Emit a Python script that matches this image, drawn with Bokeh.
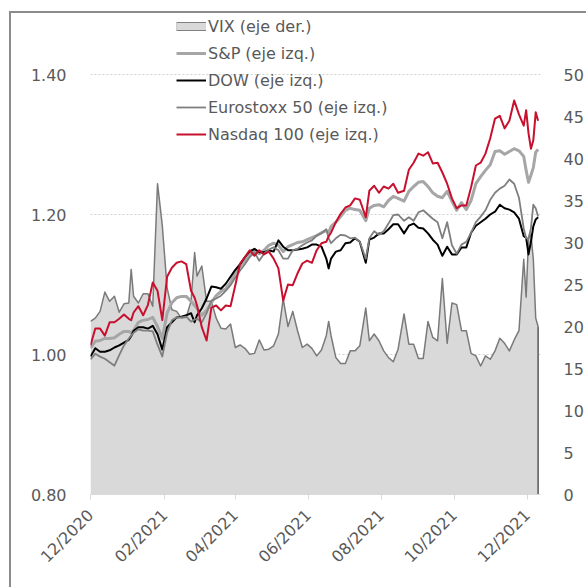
import math
import pandas as pd
from bokeh.plotting import figure
from bokeh.models import (Range1d, LinearAxis, FixedTicker, PrintfTickFormatter,
                          DatetimeTickFormatter, Legend, LegendItem, InlineStyleSheet,
                          ColumnDataSource)
from bokeh.embed import file_html
from bokeh.resources import INLINE

# ---------------- data ----------------
dates = [
    "2020-12-01", "2020-12-05", "2020-12-09", "2020-12-13", "2020-12-17", "2020-12-21",
    "2020-12-25", "2020-12-29", "2021-01-02", "2021-01-04", "2021-01-06", "2021-01-10",
    "2021-01-14", "2021-01-18", "2021-01-22", "2021-01-26", "2021-01-30", "2021-02-03",
    "2021-02-07", "2021-02-11", "2021-02-15", "2021-02-19", "2021-02-23", "2021-02-26",
    "2021-02-28", "2021-03-04", "2021-03-08", "2021-03-12", "2021-03-16", "2021-03-20",
    "2021-03-24", "2021-03-28", "2021-04-01", "2021-04-05", "2021-04-09", "2021-04-13",
    "2021-04-17", "2021-04-21", "2021-04-25", "2021-04-29", "2021-05-03", "2021-05-07",
    "2021-05-11", "2021-05-15", "2021-05-19", "2021-05-23", "2021-05-27", "2021-05-31",
    "2021-06-04", "2021-06-08", "2021-06-12", "2021-06-16", "2021-06-18", "2021-06-20",
    "2021-06-24", "2021-06-28", "2021-07-02", "2021-07-06", "2021-07-10", "2021-07-14",
    "2021-07-19", "2021-07-22", "2021-07-26", "2021-07-30", "2021-08-03", "2021-08-07",
    "2021-08-11", "2021-08-15", "2021-08-20", "2021-08-24", "2021-08-28", "2021-09-01",
    "2021-09-05", "2021-09-09", "2021-09-13", "2021-09-17", "2021-09-21", "2021-09-25",
    "2021-09-29", "2021-10-03", "2021-10-07", "2021-10-11", "2021-10-15", "2021-10-19",
    "2021-10-23", "2021-10-27", "2021-10-31", "2021-11-04", "2021-11-08", "2021-11-12",
    "2021-11-16", "2021-11-20", "2021-11-24", "2021-11-28", "2021-11-30", "2021-12-02",
    "2021-12-04", "2021-12-06", "2021-12-08", "2021-12-10",
]

vix = [
    20.6, 21.0, 21.8, 24.1, 23.0, 23.6, 21.7, 22.7, 22.8, 26.8,
    23.6, 22.8, 23.9, 23.9, 22.4, 37.0, 32.0, 24.6, 22.0, 21.8,
    21.0, 21.1, 23.0, 28.8, 26.0, 27.2, 23.0, 23.0, 21.0, 19.8,
    19.7, 20.3, 17.5, 17.8, 17.4, 16.7, 16.8, 18.4, 17.2, 17.3,
    17.7, 19.1, 23.3, 20.0, 21.8, 19.5, 17.5, 17.9, 17.4, 16.5,
    17.2, 18.9, 20.6, 18.9, 16.3, 15.6, 15.6, 17.1, 17.1, 17.7,
    22.2, 18.3, 19.1, 18.3, 17.1, 16.3, 15.8, 17.3, 21.5, 17.9,
    17.9, 16.2, 16.2, 20.6, 18.7, 18.3, 25.7, 18.0, 22.8, 22.6,
    19.5, 19.5, 16.8, 16.5, 15.3, 16.5, 16.1, 17.1, 18.6, 18.0,
    17.1, 18.4, 19.5, 28.0, 23.5, 30.5, 31.0, 28.0, 21.0, 20.0,
]

sp = [
    1.009, 1.019, 1.020, 1.023, 1.023, 1.024, 1.029, 1.033, 1.033, 1.031,
    1.034, 1.046, 1.049, 1.050, 1.053, 1.040, 1.023, 1.059, 1.074, 1.081,
    1.083, 1.083, 1.076, 1.070, 1.066, 1.056, 1.063, 1.074, 1.084, 1.090,
    1.094, 1.103, 1.117, 1.126, 1.134, 1.141, 1.149, 1.144, 1.149, 1.156,
    1.159, 1.156, 1.147, 1.154, 1.157, 1.160, 1.161, 1.164, 1.167, 1.170,
    1.174, 1.177, 1.174, 1.183, 1.189, 1.197, 1.206, 1.209, 1.207, 1.206,
    1.191, 1.209, 1.213, 1.214, 1.211, 1.220, 1.226, 1.223, 1.219, 1.233,
    1.240, 1.246, 1.247, 1.240, 1.231, 1.226, 1.224, 1.233, 1.219, 1.206,
    1.217, 1.207, 1.220, 1.244, 1.254, 1.263, 1.271, 1.290, 1.291, 1.286,
    1.290, 1.294, 1.291, 1.283, 1.263, 1.246, 1.256, 1.267, 1.289, 1.293,
]

dow = [
    0.997, 1.009, 1.004, 1.004, 1.006, 1.010, 1.013, 1.017, 1.021, 1.026,
    1.034, 1.039, 1.039, 1.037, 1.041, 1.029, 1.007, 1.039, 1.046, 1.053,
    1.054, 1.056, 1.059, 1.046, 1.056, 1.066, 1.080, 1.097, 1.096, 1.094,
    1.101, 1.111, 1.121, 1.129, 1.139, 1.147, 1.151, 1.146, 1.146, 1.149,
    1.147, 1.163, 1.154, 1.149, 1.149, 1.150, 1.151, 1.153, 1.157, 1.157,
    1.154, 1.137, 1.123, 1.137, 1.147, 1.149, 1.159, 1.160, 1.166, 1.161,
    1.131, 1.164, 1.167, 1.173, 1.173, 1.179, 1.186, 1.186, 1.173, 1.184,
    1.187, 1.181, 1.180, 1.173, 1.164, 1.157, 1.141, 1.154, 1.143, 1.143,
    1.153, 1.153, 1.174, 1.184, 1.189, 1.194, 1.200, 1.204, 1.214, 1.209,
    1.207, 1.203, 1.194, 1.169, 1.167, 1.143, 1.161, 1.183, 1.193, 1.196,
]

eurostoxx = [
    0.993, 1.001, 0.997, 0.994, 0.989, 0.984, 0.999, 1.013, 1.023, 1.027,
    1.031, 1.036, 1.034, 1.034, 1.033, 1.014, 0.997, 1.031, 1.049, 1.053,
    1.053, 1.054, 1.047, 1.050, 1.051, 1.046, 1.059, 1.077, 1.080, 1.084,
    1.091, 1.099, 1.110, 1.120, 1.129, 1.139, 1.146, 1.134, 1.144, 1.150,
    1.153, 1.149, 1.137, 1.137, 1.149, 1.151, 1.156, 1.160, 1.163, 1.170,
    1.173, 1.179, 1.166, 1.159, 1.166, 1.171, 1.170, 1.166, 1.167, 1.161,
    1.137, 1.166, 1.176, 1.171, 1.176, 1.187, 1.199, 1.200, 1.191, 1.196,
    1.191, 1.203, 1.206, 1.200, 1.194, 1.189, 1.166, 1.189, 1.156, 1.144,
    1.157, 1.161, 1.174, 1.189, 1.197, 1.206, 1.221, 1.231, 1.237, 1.241,
    1.250, 1.244, 1.224, 1.180, 1.166, 1.166, 1.180, 1.214, 1.209, 1.197,
]

nasdaq = [
    1.013, 1.037, 1.037, 1.027, 1.046, 1.046, 1.051, 1.057, 1.051, 1.049,
    1.060, 1.069, 1.056, 1.071, 1.103, 1.091, 1.049, 1.111, 1.124, 1.131,
    1.133, 1.129, 1.091, 1.081, 1.070, 1.039, 1.020, 1.067, 1.070, 1.063,
    1.070, 1.069, 1.099, 1.130, 1.139, 1.149, 1.141, 1.149, 1.143, 1.147,
    1.137, 1.123, 1.077, 1.100, 1.099, 1.116, 1.130, 1.134, 1.131, 1.149,
    1.159, 1.161, 1.169, 1.174, 1.189, 1.201, 1.210, 1.213, 1.223, 1.221,
    1.196, 1.234, 1.241, 1.231, 1.240, 1.237, 1.244, 1.231, 1.234, 1.264,
    1.274, 1.287, 1.284, 1.289, 1.273, 1.274, 1.260, 1.244, 1.223, 1.209,
    1.213, 1.213, 1.239, 1.270, 1.274, 1.287, 1.309, 1.337, 1.341, 1.323,
    1.334, 1.363, 1.343, 1.327, 1.349, 1.316, 1.294, 1.306, 1.346, 1.334,
]

x_tick_dates = ["2020-12-01", "2021-02-01", "2021-04-01", "2021-06-01",
                "2021-08-01", "2021-10-01", "2021-12-01"]
left_ticks = [0.80, 1.00, 1.20, 1.40]
right_ticks = [0, 5, 10, 15, 20, 25, 30, 35, 40, 45, 50]
labels = ["VIX (eje der.)", "S&P (eje izq.)", "DOW (eje izq.)",
          "Eurostoxx 50 (eje izq.)", "Nasdaq 100 (eje izq.)"]

# ---------------- figure ----------------
FONT = "DejaVu Sans"
TXT = "#595959"
FRAME_W, FRAME_H = 450, 480
B_LEFT, B_RIGHT, B_TOP, B_BOTTOM = 90, 38, 14, 77
scale_px = 420                          # px between 0.80 and 1.40 (0 and 50)
y_end = left_ticks[0] + (left_ticks[-1] - left_ticks[0]) * FRAME_H / scale_px
v_end = right_ticks[-1] * FRAME_H / scale_px

x = pd.to_datetime(dates)
src = ColumnDataSource(dict(x=x, vix=vix, sp=sp, dow=dow, euro=eurostoxx, nasdaq=nasdaq))

p = figure(frame_width=FRAME_W, frame_height=FRAME_H, x_axis_type="datetime",
           x_range=Range1d(pd.Timestamp("2020-12-01"), pd.Timestamp("2021-12-12")),
           y_range=Range1d(left_ticks[0], y_end),
           output_backend="svg", toolbar_location=None,
           min_border_left=B_LEFT, min_border_right=B_RIGHT,
           min_border_top=B_TOP, min_border_bottom=B_BOTTOM)
p.outline_line_color = None
p.background_fill_color = "white"
p.border_fill_color = "white"
p.extra_y_ranges = {"vix": Range1d(0, v_end)}

# outer frame of the chart: only its left and top edges fall inside the picture
p.stylesheets = [InlineStyleSheet(css="""
:host { position: relative; }
:host::after {
  content: ""; position: absolute; left: 9px; top: 11px; right: -40px; bottom: -40px;
  border-left: 2px solid #8c8c8c; border-top: 2px solid #8c8c8c;
  pointer-events: none; z-index: 50;
}
""")]

# left axis
la = p.yaxis[0]
la.ticker = FixedTicker(ticks=left_ticks)
la.formatter = PrintfTickFormatter(format="%.2f")
la.axis_line_color = None
la.major_tick_line_color = None
la.minor_tick_line_color = None
la.major_label_standoff = 18
la.major_label_text_font = FONT
la.major_label_text_font_size = "16px"
la.major_label_text_color = TXT

# right axis
ra = LinearAxis(y_range_name="vix", ticker=FixedTicker(ticks=right_ticks))
ra.axis_line_color = None
ra.major_tick_line_color = None
ra.minor_tick_line_color = None
ra.major_label_standoff = 17
ra.major_label_text_align = "left"
ra.major_label_text_font = FONT
ra.major_label_text_font_size = "16px"
ra.major_label_text_color = TXT
p.add_layout(ra, "right")

# x axis
xa = p.xaxis[0]
xa.ticker = FixedTicker(ticks=[pd.Timestamp(d).value / 1e6 for d in x_tick_dates])
fmt = "%m/%Y"
xa.formatter = DatetimeTickFormatter(milliseconds=fmt, seconds=fmt, minsec=fmt, minutes=fmt,
                                     hourmin=fmt, hours=fmt, days=fmt, months=fmt, years=fmt)
xa.axis_line_color = "#d9d9d9"
xa.major_tick_line_color = "#d9d9d9"
xa.major_tick_out = 5
xa.major_tick_in = 0
xa.minor_tick_line_color = None
xa.major_label_orientation = math.pi / 4
xa.major_label_standoff = 13
xa.major_label_text_font = FONT
xa.major_label_text_font_size = "16px"
xa.major_label_text_color = TXT

p.xgrid.visible = False
p.ygrid.ticker = FixedTicker(ticks=left_ticks[1:])
p.ygrid.grid_line_color = "#d0d0d0"
p.ygrid.grid_line_dash = "2 2"
p.ygrid.grid_line_width = 1

# VIX area (right axis)
p.varea(x="x", y1=0, y2="vix", source=src, y_range_name="vix", fill_color="#d9d9d9")
p.line(x="x", y="vix", source=src, y_range_name="vix", line_color="#7a7a7a",
       line_width=1.5, line_join="round")
p.segment(x0=[x[-1]], y0=[vix[-1]], x1=[x[-1]], y1=[0], y_range_name="vix",
          line_color="#595959", line_width=1.5)

r_sp = p.line(x="x", y="sp", source=src, line_color="#a6a6a6", line_width=3, line_join="round")
r_dow = p.line(x="x", y="dow", source=src, line_color="#000000", line_width=2, line_join="round")
r_eu = p.line(x="x", y="euro", source=src, line_color="#7f7f7f", line_width=1.8, line_join="round")
r_nq = p.line(x="x", y="nasdaq", source=src, line_color="#c8102e", line_width=2, line_join="round")

# legend swatch for the VIX area (a box with an outline); no visible data
nan = float("nan")
leg_vix_border = p.line(x=[x[0]], y=[nan], line_color="#808080", line_width=9)
leg_vix_fill = p.line(x=[x[0]], y=[nan], line_color="#d9d9d9", line_width=7)

legend = Legend(items=[
    LegendItem(label=labels[0], renderers=[leg_vix_border, leg_vix_fill]),
    LegendItem(label=labels[1], renderers=[r_sp]),
    LegendItem(label=labels[2], renderers=[r_dow]),
    LegendItem(label=labels[3], renderers=[r_eu]),
    LegendItem(label=labels[4], renderers=[r_nq]),
], location=(86, 350))
legend.glyph_width = 30
legend.glyph_height = 20
legend.label_height = 20
legend.spacing = 7
legend.padding = 0
legend.margin = 0
legend.label_standoff = 2
legend.border_line_color = None
legend.background_fill_alpha = 0
legend.label_text_font = FONT
legend.label_text_font_size = "16px"
legend.label_text_color = TXT
p.add_layout(legend)

open("out.html", "w").write(file_html(p, INLINE))
